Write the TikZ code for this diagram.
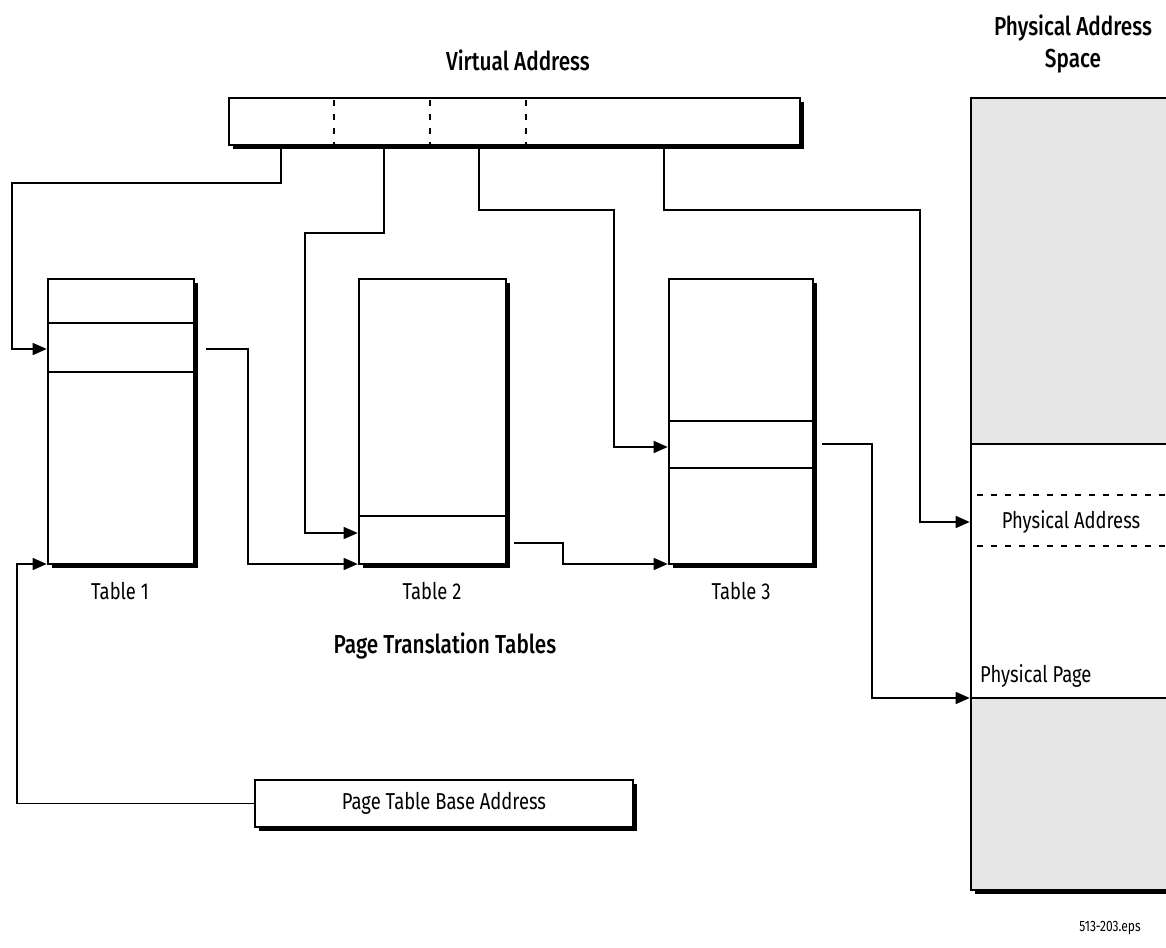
\documentclass[tikz,border=0pt]{standalone}
\usepackage{fontspec}
\setmainfont{Fira Sans}[FakeStretch=0.8]
\newfontfamily\titlefont{Fira Sans Medium}[FakeStretch=0.8]
\usetikzlibrary{arrows.meta,shadows}
\definecolor{panelgray}{HTML}{E6E6E6}
\begin{document}
\begin{tikzpicture}[x=1pt,y=-1pt,
  frame/.style={draw,line width=2.6pt,fill=white,inner sep=0pt,outer sep=0pt,anchor=north west,
     drop shadow={shadow xshift=4pt,shadow yshift=-4pt,fill=black,opacity=1}},
  conn/.style={line width=1.4pt},
  arr/.style={conn,-{Triangle[length=14pt,width=12pt]}},
  sep/.style={line width=2.6pt},
  dsep/.style={line width=2.8pt,dash pattern=on 6pt off 8pt},
  lbl/.style={font=\fontsize{23}{27}\selectfont,inner sep=0pt},
  ttl/.style={font=\titlefont\fontsize{26}{32}\selectfont,inner sep=0pt,align=center}]
\useasboundingbox (0,0) rectangle (1166,947);
\clip (0,0) rectangle (1166,947);
% boxes
\node[frame,minimum width=571pt,minimum height=47pt] (va) at (229,98) {};
\node[frame,minimum width=146pt,minimum height=285pt] (t1) at (48,279) {};
\node[frame,minimum width=147pt,minimum height=285pt] (t2) at (359,279) {};
\node[frame,minimum width=144pt,minimum height=285pt] (t3) at (669,279) {};
\node[frame,minimum width=378pt,minimum height=47pt] (base) at (255,780) {};
\node[frame,minimum width=260pt,minimum height=792pt] (phys) at (971,98) {};
% physical space shading
\fill[panelgray] (972,99) rectangle (1166,444);
\fill[panelgray] (972,698) rectangle (1166,889);
\draw[sep] (971,444) -- (1170,444);
\draw[sep] (971,698) -- (1170,698);
\draw[line width=2.6pt] (971,98) -- (1180,98);
\draw[line width=2.6pt] (971,96.7) -- (971,891.3);
\draw[dsep] (977,495) -- (1166,495);
\draw[dsep] (977,546) -- (1166,546);
% virtual address fields
\draw[dsep] (334,100) -- (334,145);
\draw[dsep] (430,100) -- (430,145);
\draw[dsep] (526,100) -- (526,145);
% table entries
\draw[sep] (48,323) -- (194,323);
\draw[sep] (48,372) -- (194,372);
\draw[sep] (359,516) -- (506,516);
\draw[sep] (669,421) -- (813,421);
\draw[sep] (669,468) -- (813,468);
% named points
\coordinate (f1) at (281,147);
\coordinate (f2) at (384,147);
\coordinate (f3) at (479,147);
\coordinate (f4) at (664,147);
\coordinate (t1in) at (46.7,349);
\coordinate (t1base) at (46.7,564);
\coordinate (t1out) at (206,349);
\coordinate (t2in) at (357.7,533);
\coordinate (t2base) at (357.7,564);
\coordinate (t2out) at (514,543);
\coordinate (t3in) at (667.7,447);
\coordinate (t3base) at (667.7,564);
\coordinate (t3out) at (822,444);
\coordinate (pa) at (969.7,522);
\coordinate (pp) at (969.7,698);
\coordinate (bl) at (17,564);
% connectors
\draw[arr] (f1) -- (281,183) -- (12,183) -- (12,349) -- (t1in);
\draw[arr] (f2) -- (384,233) -- (305,233) -- (305,533) -- (t2in);
\draw[arr] (f3) -- (479,210) -- (614,210) -- (614,447) -- (t3in);
\draw[arr] (f4) -- (664,210) -- (920,210) -- (920,522) -- (pa);
\draw[arr] (t1out) -- (248,349) -- (248,564) -- (t2base);
\draw[arr] (t2out) -- (563,543) -- (563,564) -- (t3base);
\draw[arr] (t3out) -- (872,444) -- (872,698) -- (pp);
\draw[arr] (base.west) -- (base.west -| bl) -- (bl) -- (t1base);
% labels
\node[ttl] (vat) at (518,60) {Virtual Address};
\node[ttl] (pat) at (1073,44) {Physical Address\\Space};
\node[ttl] (ptt) at (445,646) {Page Translation Tables};
\node[lbl] (l1) at (120,591) {Table 1};
\node[lbl] (l2) at (432,591) {Table 2};
\node[lbl] (l3) at (741,591) {Table 3};
\node[lbl] at (base.center) {Page Table Base Address};
\node[lbl] (pal) at (1071,522) {Physical Address};
\node[lbl,anchor=west] (ppl) at (980,676) {Physical Page};
\node[font=\fontsize{15}{18}\selectfont,inner sep=0pt] (eps) at (1110,928) {513-203.eps};
\end{tikzpicture}
\end{document}
